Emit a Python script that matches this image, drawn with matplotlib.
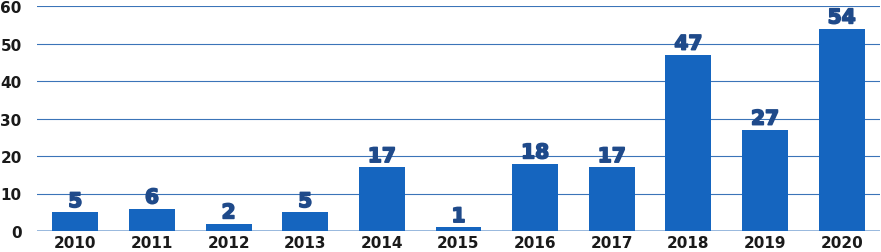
import matplotlib
matplotlib.use("Agg")
import matplotlib.pyplot as plt
import matplotlib.patheffects as pe
import numpy as np

years = ['2010', '2011', '2012', '2013', '2014', '2015', '2016', '2017', '2018', '2019', '2020']
counts = [5, 6, 2, 5, 17, 1, 18, 17, 47, 27, 54]
yticks = [0, 10, 20, 30, 40, 50, 60]

bar_color = '#1565bf'
label_color = '#1f4a8a'
grid_color = '#3b74b8'

fig = plt.figure(figsize=(8.81, 2.53), dpi=100)
ax = fig.add_axes([37/881, 1 - 232/253, 843/881, 225/253])

x = np.arange(len(years))
ax.bar(x, counts, width=0.6, color=bar_color, zorder=3)

for xi, c in zip(x, counts):
    ax.text(xi, c + 0.3, str(c), ha='center', va='bottom', color=label_color,
            fontsize=14.5, fontweight='bold', family='DejaVu Sans', zorder=4,
            path_effects=[pe.withStroke(linewidth=1.2, foreground=label_color)])

for t in yticks[1:]:
    ax.axhline(t, color=grid_color, lw=0.8, zorder=1)
ax.axhline(0, color='#8fb2da', lw=2, zorder=2)

ax.set_xlim(-0.5, len(years) - 0.5)
ax.set_ylim(0, 60)
ax.set_xticks(x)
ax.set_xticklabels(years)
ax.set_yticks(yticks)
for lab in ax.get_xticklabels() + ax.get_yticklabels():
    lab.set_family('DejaVu Sans')
    lab.set_fontweight('bold')
    lab.set_fontsize(11)
    lab.set_color('#1a1a1a')
ax.tick_params(length=0)
ax.tick_params(axis='y', pad=11)
ax.tick_params(axis='x', pad=3)
for s in ax.spines.values():
    s.set_visible(False)

fig.savefig('out.png', dpi=100)
